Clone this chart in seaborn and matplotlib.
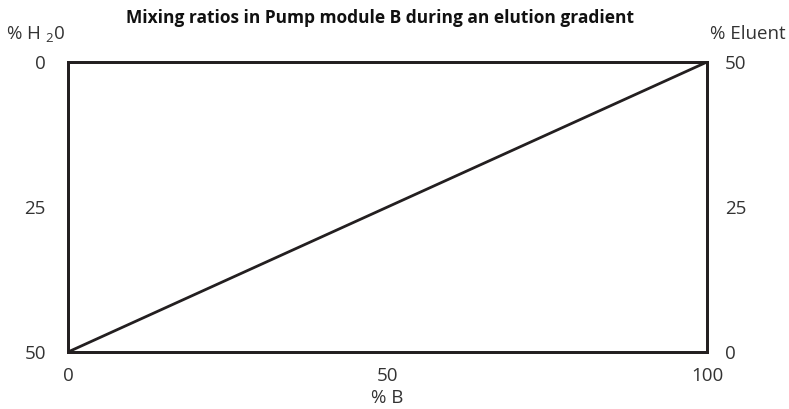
import matplotlib
matplotlib.use("Agg")
import matplotlib.pyplot as plt
import seaborn as sns
import pandas as pd

sns.set_theme(style="white")
plt.rcParams['font.family'] = ['Open Sans', 'DejaVu Sans']
plt.rcParams['mathtext.fontset'] = 'custom'
plt.rcParams['mathtext.rm'] = 'Open Sans'

# data
pct_b = [0, 100]
pct_eluent = [0, 50]
h2o_ticks = [0, 25, 50]
eluent_ticks = [0, 25, 50]
b_ticks = [0, 50, 100]

df = pd.DataFrame({"pct_b": pct_b, "pct_eluent": pct_eluent})

W, H = 789, 409
fig = plt.figure(figsize=(W / 100, H / 100), dpi=100)
ax = fig.add_axes([68 / W, 1 - 352 / H, (707 - 68) / W, (352 - 62) / H])
ax2 = ax.twinx()

txt = '#333333'
lc = '#231f20'
fs = 13.5

sns.lineplot(data=df, x="pct_b", y="pct_eluent", ax=ax2, color=lc, linewidth=2.0)

ax.set_xlim(0, 100)
ax.set_ylim(50, 0)
ax2.set_ylim(0, 50)

ax.set_xticks(b_ticks)
ax.set_xticklabels([str(v) for v in b_ticks])
ax.set_yticks(h2o_ticks)
ax.set_yticklabels([str(v) for v in h2o_ticks])
ax2.set_yticks(eluent_ticks)
ax2.set_yticklabels([str(v) for v in eluent_ticks])

ax.tick_params(axis='x', length=0, pad=11, labelsize=fs, colors=txt)
ax.tick_params(axis='y', length=0, pad=16, labelsize=fs, colors=txt)
ax2.tick_params(axis='y', length=0, pad=13, labelsize=fs, colors=txt)

for a in (ax, ax2):
    for s in a.spines.values():
        s.set_color(lc)
        s.set_linewidth(2.0)
    a.grid(False)

ax.set_xlabel("% B", fontsize=fs, color=txt, labelpad=3)
ax.set_ylabel("")
ax2.set_ylabel("")

fig.text(380 / W, 1 - 18 / H, "Mixing ratios in Pump module B during an elution gradient",
         ha='center', va='center', fontsize=12.5, fontweight='bold', color='#111111')
fig.text(36 / W, 1 - 35 / H, r"% H $_{\mathrm{2}}$0", ha='center', va='center',
         fontsize=fs, color=txt)
fig.text(748 / W, 1 - 34 / H, "% Eluent", ha='center', va='center',
         fontsize=fs, color=txt)

fig.savefig("out.png", dpi=100)
